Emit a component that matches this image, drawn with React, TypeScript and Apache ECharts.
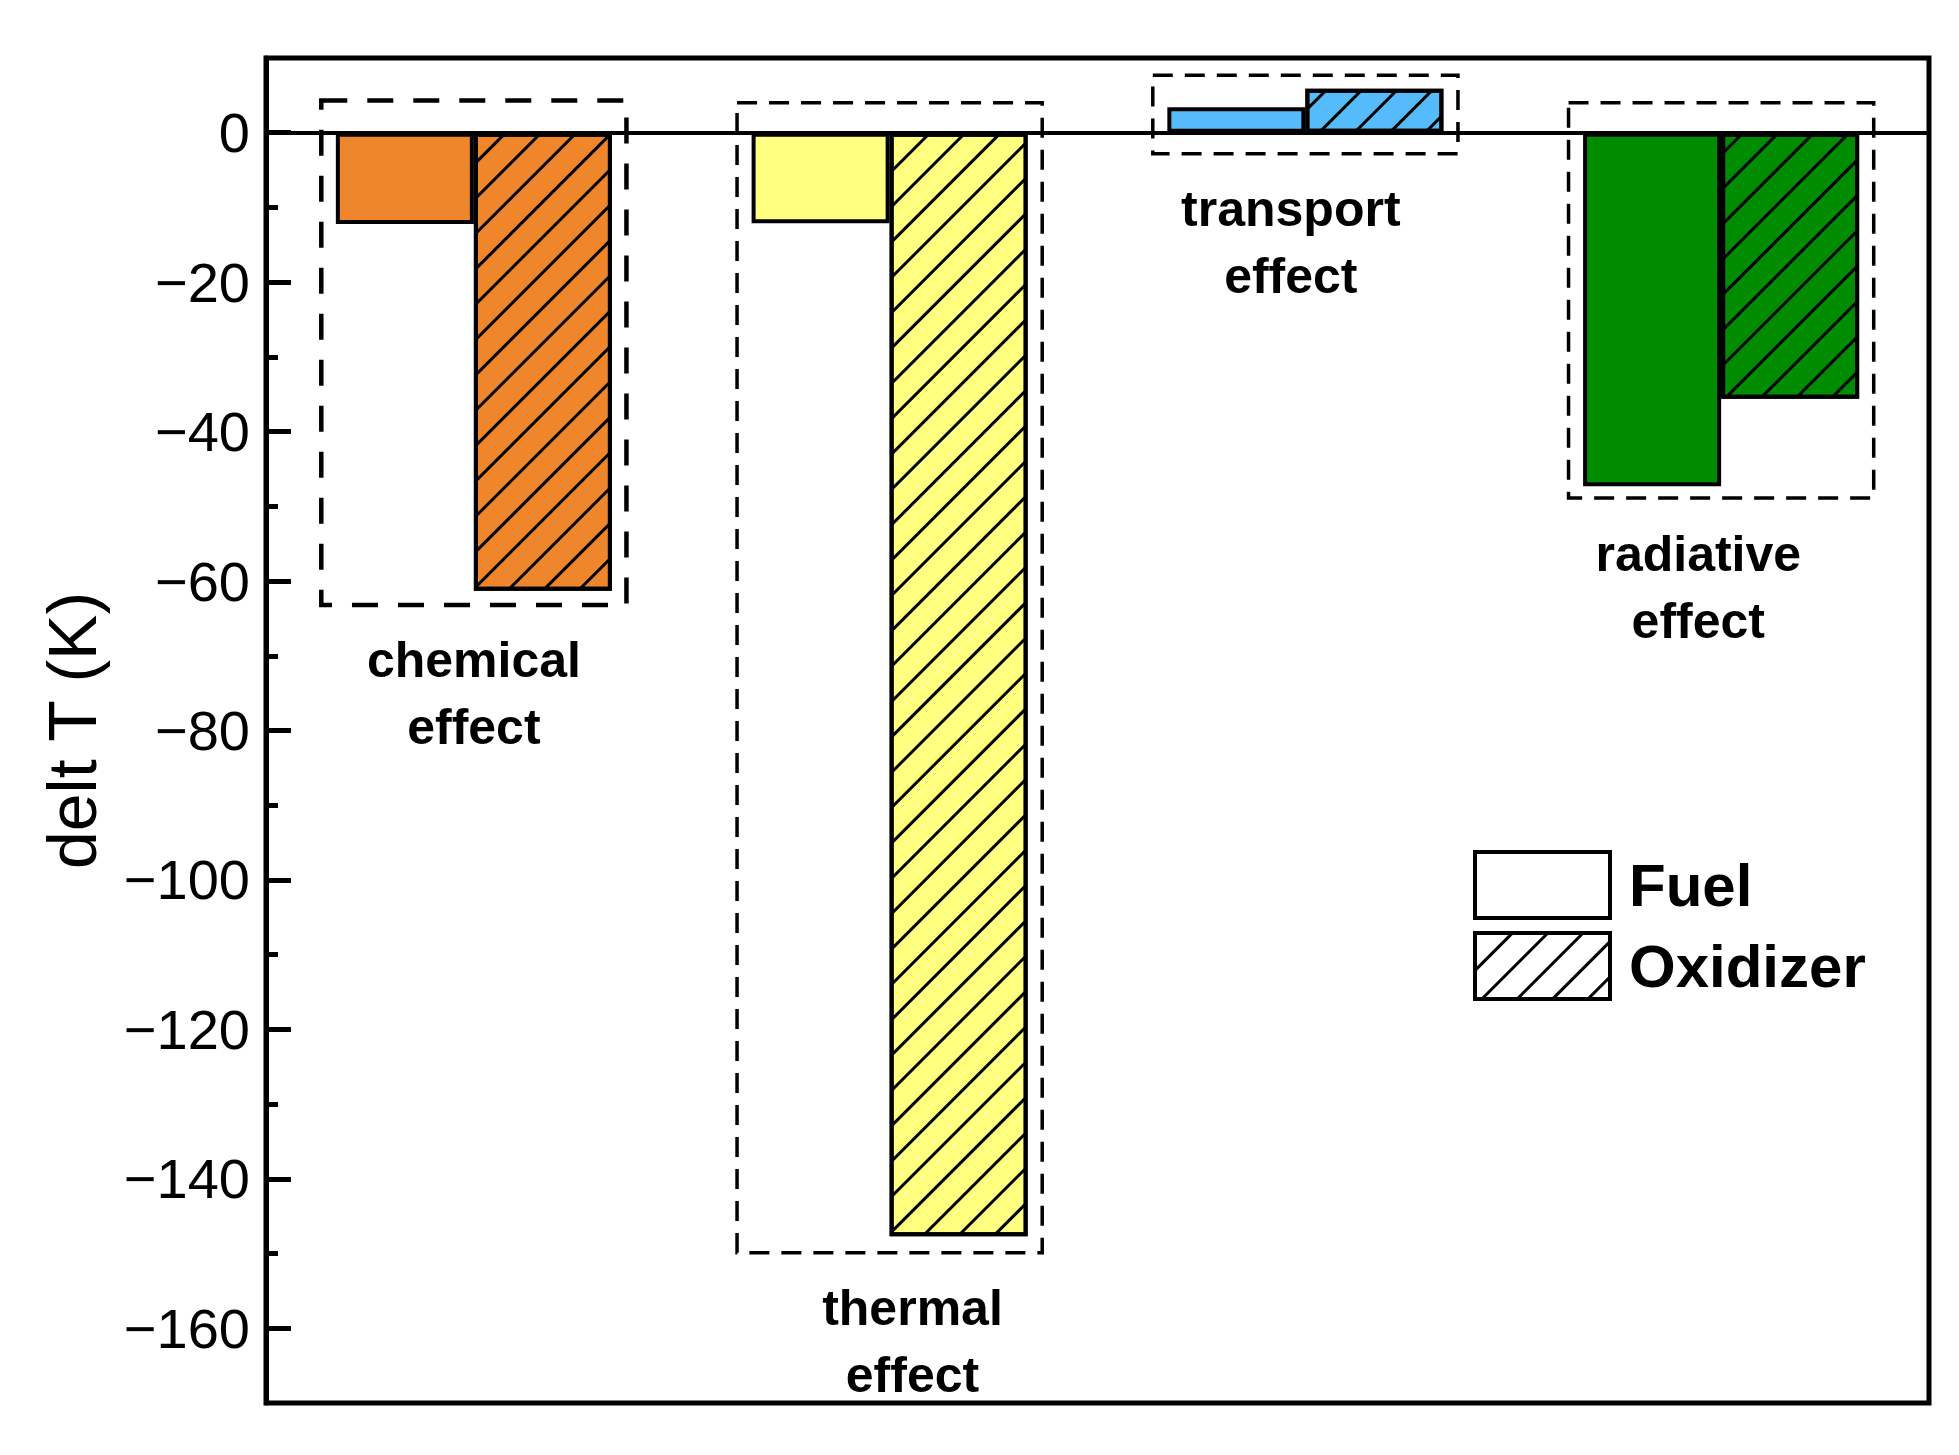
import React, { useEffect, useRef } from "react";
import * as echarts from "echarts";

const categories = ["chemical effect", "thermal effect", "transport effect", "radiative effect"];
const labelLines = ["chemical\neffect", "thermal\neffect", "transport\neffect", "radiative\neffect"];
const fuelValues = [-12.2, -12.1, 3.4, -47.3];
const oxidizerValues = [-61.3, -147.7, 5.9, -35.6];
const boxTop = [4.3, 4.0, 7.7, 4.0];
const boxBottom = [-63.2, -149.9, -2.8, -48.9];
const categoryColors = ["#EF862B", "#FFFF80", "#55BBFA", "#008C00"];
const majorTicks = [0, -20, -40, -60, -80, -100, -120, -140, -160];
const minorTicks = [-10, -30, -50, -70, -90, -110, -130, -150];

// layout: horizontal shift of each caption, as a fraction of the category band
const labelShift = [0, 0.055, -0.035, -0.055];

const FONT = "'Liberation Sans', Arial, sans-serif";

const hatch = {
  symbol: "rect",
  symbolSize: 1,
  color: "#000",
  dashArrayX: [1, 0],
  dashArrayY: [3, 22],
  rotation: -Math.PI / 4,
};

const fmt = (v: number) => (v < 0 ? "\u2212" + Math.abs(v) : String(v));

export default function App() {
  const ref = useRef<HTMLDivElement>(null);
  useEffect(() => {
    if (!ref.current) return;
    const chart = echarts.init(ref.current, null, { renderer: "svg" });
    const boxData = categories.map((_, i) => [i, boxTop[i], boxBottom[i], i === 0 ? 1 : 0]);
    chart.setOption({
      animation: false,
      backgroundColor: "#fff",
      grid: {
        left: 266,
        right: 30,
        top: 58,
        bottom: 52,
        show: true,
        borderColor: "#000",
        borderWidth: 5,
        backgroundColor: "transparent",
      },
      legend: {
        orient: "vertical",
        left: 1468,
        top: 845,
        itemWidth: 135,
        itemHeight: 66,
        itemGap: 11,
        icon: "rect",
        selectedMode: false,
        textStyle: { fontSize: 60, fontWeight: "bold", color: "#000", fontFamily: FONT, padding: [0, 0, 0, 14] },
        data: [
          { name: "Fuel", itemStyle: { color: "#fff", borderColor: "#000", borderWidth: 4 } },
          { name: "Oxidizer", itemStyle: { color: "#fff", borderColor: "#000", borderWidth: 4, decal: hatch } },
        ],
      },
      xAxis: {
        type: "category",
        data: categories,
        axisLine: { onZero: true, lineStyle: { color: "#000", width: 4 } },
        axisTick: { show: false },
        axisLabel: { show: false },
        splitLine: { show: false },
      },
      yAxis: [
        {
          type: "value",
          min: -170,
          max: 10,
          position: "left",
          name: "delt T (K)",
          nameLocation: "middle",
          nameGap: 160,
          nameTextStyle: { fontSize: 68, color: "#000", fontFamily: FONT },
          axisLine: { show: true, lineStyle: { color: "#000", width: 5 } },
          axisTick: { show: true, inside: true, length: 25, lineStyle: { color: "#000", width: 5 }, customValues: majorTicks },
          axisLabel: { fontSize: 56, color: "#000", fontFamily: FONT, margin: 16, customValues: majorTicks, formatter: fmt },
          splitLine: { show: false },
        },
        {
          type: "value",
          min: -170,
          max: 10,
          position: "left",
          axisLine: { show: false },
          axisTick: { show: true, inside: true, length: 12, lineStyle: { color: "#000", width: 5 }, customValues: minorTicks },
          axisLabel: { show: false, customValues: minorTicks },
          splitLine: { show: false },
        },
      ],
      series: [
        {
          name: "Fuel",
          type: "bar",
          barGap: "0%",
          barCategoryGap: "33.6%",
          itemStyle: { color: "#fff", borderColor: "#000", borderWidth: 4 },
          data: fuelValues.map((v, i) => ({ value: v, itemStyle: { color: categoryColors[i] } })),
          z: 2,
        },
        {
          name: "Oxidizer",
          type: "bar",
          barGap: "0%",
          barCategoryGap: "33.6%",
          itemStyle: { color: "#fff", borderColor: "#000", borderWidth: 4, decal: hatch },
          data: oxidizerValues.map((v, i) => ({ value: v, itemStyle: { color: categoryColors[i], decal: hatch } })),
          z: 2,
        },
        {
          name: "boxes",
          type: "custom",
          z: 3,
          clip: false,
          data: boxData,
          renderItem: (params: any, api: any) => {
            const c = api.value(0);
            const p1 = api.coord([c, api.value(1)]);
            const p2 = api.coord([c, api.value(2)]);
            const bw = api.size([1, 0])[0];
            const heavy = api.value(3) === 1;
            const idx = params.dataIndex;
            return {
              type: "group",
              children: [
                {
                  type: "rect",
                  shape: { x: p1[0] - 0.367 * bw, y: p1[1], width: 0.734 * bw, height: p2[1] - p1[1] },
                  style: {
                    fill: "none",
                    stroke: "#000",
                    lineWidth: heavy ? 4.5 : 3.5,
                    lineDash: heavy ? [26, 20] : [20, 12],
                  },
                },
                {
                  type: "text",
                  x: p1[0] + labelShift[idx] * bw,
                  y: p2[1] + 22,
                  style: {
                    text: labelLines[idx],
                    fontSize: 50,
                    fontWeight: "bold",
                    fontFamily: FONT,
                    fill: "#000",
                    align: "center",
                    verticalAlign: "top",
                    lineHeight: 67,
                  },
                },
              ],
            };
          },
        },
      ],
    });
    return () => chart.dispose();
  }, []);
  return (
    <div
      ref={ref}
      style={{ position: "fixed", left: 0, top: 0, width: 1959, height: 1455, background: "#fff" }}
    />
  );
}
